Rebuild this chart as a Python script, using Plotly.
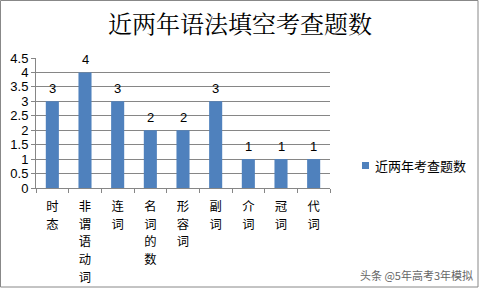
import plotly.graph_objects as go

categories = ["时态", "非谓语动词", "连词", "名词的数", "形容词", "副词", "介词", "冠词", "代词"]
values = [3, 4, 3, 2, 2, 3, 1, 1, 1]
series_name = "近两年考查题数"
title_text = "近两年语法填空考查题数"
y_ticks = [0, 0.5, 1, 1.5, 2, 2.5, 3, 3.5, 4, 4.5]
y_tick_text = ["0", "0.5", "1", "1.5", "2", "2.5", "3", "3.5", "4", "4.5"]
watermark = "头条 @5年高考3年模拟"

W, H = 481, 289
bar_color = "#4F81BD"
axis_color = "#868686"

tick_text = ["<br>".join("<span style='font-size:12.3px'>%s</span>" % ch for ch in c) for c in categories]

fig = go.Figure()
fig.add_trace(go.Bar(
    x=categories, y=values, name=series_name,
    marker=dict(color=bar_color, line=dict(width=0)),
    showlegend=False, hoverinfo="x+y",
))

annotations = [
    dict(x=c, y=v, xref="x", yref="y", text=str(v), showarrow=False,
         xanchor="center", yanchor="bottom", yshift=3,
         font=dict(size=13, color="#000000", family="Liberation Sans, Arial"))
    for c, v in zip(categories, values)
]
annotations += [
    dict(text=series_name, xref="paper", yref="paper", x=373 / W, y=1 - 165 / H,
         xanchor="left", yanchor="middle", showarrow=False,
         font=dict(size=13, color="#000000", family="Noto Sans CJK SC")),
    dict(text=watermark, xref="paper", yref="paper",
         x=1 - 6 / W, y=1 - 275 / H, xanchor="right", yanchor="middle",
         showarrow=False, font=dict(size=11, color="#666666", family="Noto Sans CJK SC")),
]

fig.update_layout(
    width=W, height=H,
    margin=dict(l=0, r=0, t=0, b=0, autoexpand=False),
    paper_bgcolor="white", plot_bgcolor="white",
    bargap=0.6,
    showlegend=False,
    title=dict(text=title_text, x=240 / W, xanchor="center", y=1 - 25 / H, yanchor="middle",
               font=dict(size=24, color="#000000", family="Noto Serif CJK SC, Noto Sans CJK SC")),
    xaxis=dict(domain=[36 / W, 330 / W], type="category", automargin=False,
               tickmode="array", tickvals=categories, ticktext=tick_text,
               tickson="boundaries", ticks="outside", ticklen=4, tickcolor=axis_color,
               showline=True, linecolor=axis_color, linewidth=1, showgrid=False,
               tickfont=dict(size=13.8, color="#000000", family="Noto Sans CJK SC"),
               tickangle=0, ticklabelstandoff=5),
    yaxis=dict(domain=[1 - 188 / H, 1 - 58 / H], range=[0, 4.5], automargin=False,
               tickmode="array", tickvals=y_ticks, ticktext=y_tick_text,
               ticks="outside", ticklen=4, tickcolor=axis_color,
               showline=True, linecolor=axis_color, linewidth=1,
               showgrid=True, gridcolor=axis_color, gridwidth=1, zeroline=False,
               tickfont=dict(size=13, color="#000000", family="Liberation Sans, Arial")),
    shapes=[
        dict(type="rect", xref="paper", yref="paper", x0=0.5 / W, x1=478 / W,
             y0=1 - 287 / H, y1=1 - 0.5 / H, line=dict(color="#888888", width=1)),
        # legend key
        dict(type="rect", xref="paper", yref="paper", x0=362 / W, x1=369 / W,
             y0=1 - 169 / H, y1=1 - 162 / H, line=dict(width=0), fillcolor=bar_color),
    ],
    annotations=annotations,
)

fig.write_html("out.html")
